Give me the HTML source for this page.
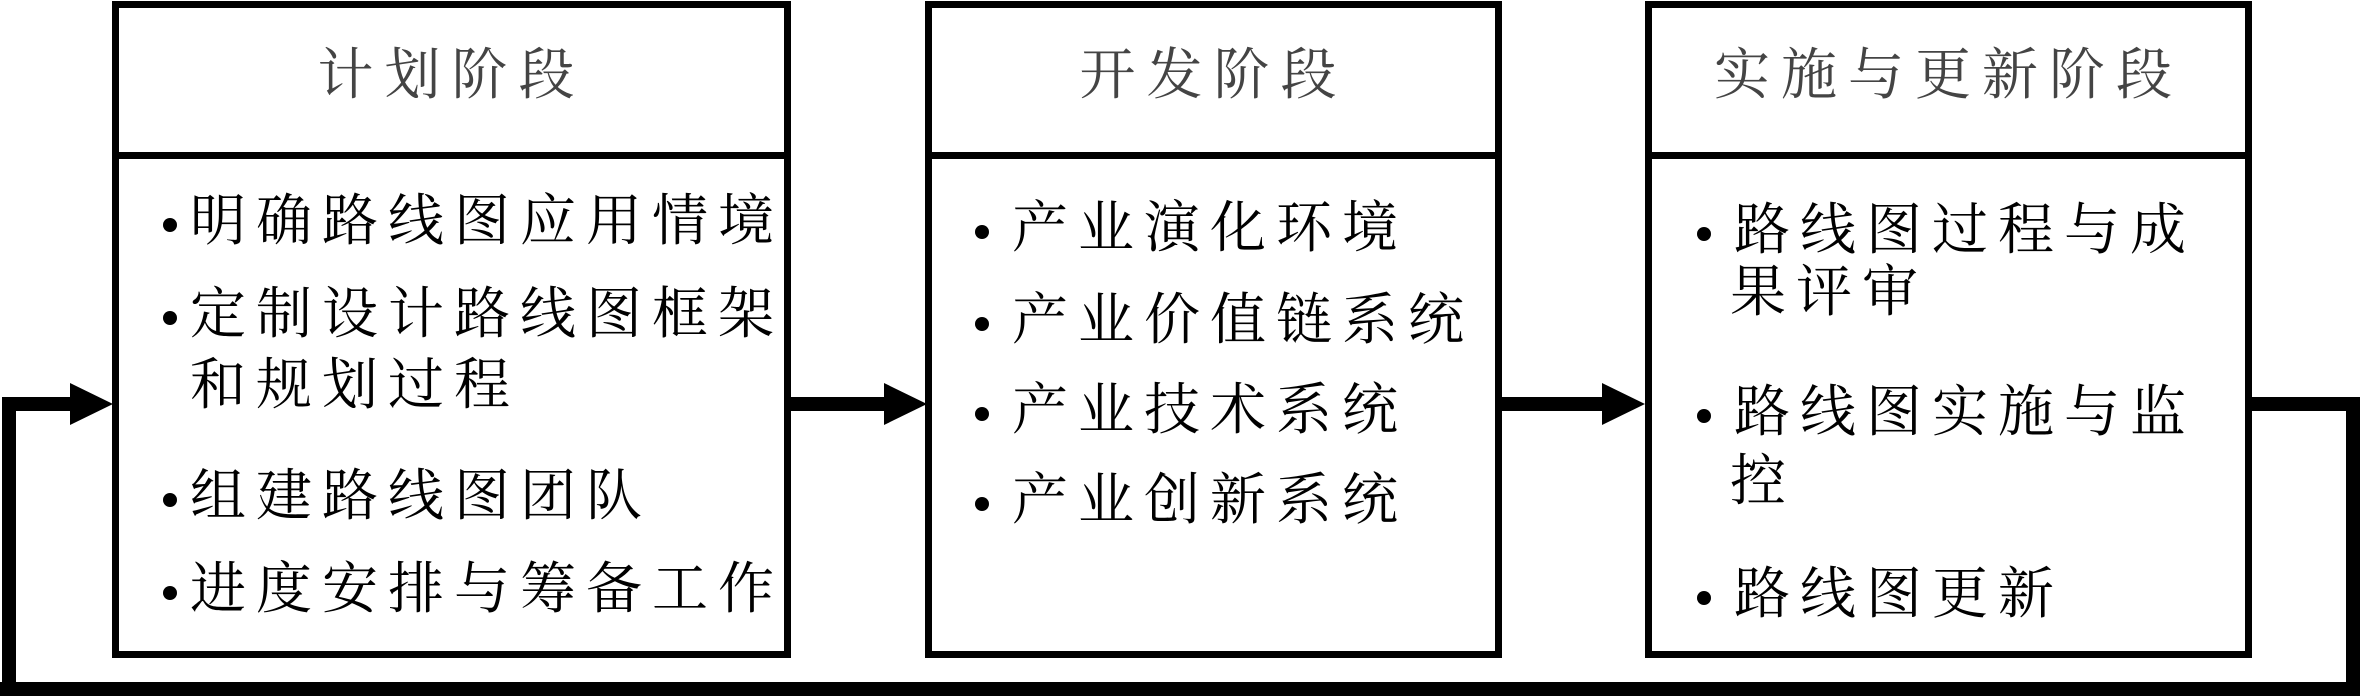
<!DOCTYPE html>
<html><head><meta charset="utf-8"><style>
body{margin:0;width:2362px;height:696px;background:#fff;position:relative;overflow:hidden;font-family:"Liberation Serif","Noto Serif CJK SC","Noto Serif CJK JP",serif;}
.b{position:absolute;background:#000}
.box{position:absolute;border:7px solid #000;box-sizing:border-box;background:#fff}
.t{position:absolute;font-size:56px;color:#444;white-space:nowrap;line-height:1;letter-spacing:11px}
.l{position:absolute;font-size:56px;color:#000;white-space:nowrap;line-height:1;letter-spacing:10px}
.d{position:absolute;width:14px;height:14px;border-radius:50%;background:#000}
.tri{position:absolute;width:0;height:0;border-top:21px solid transparent;border-bottom:21px solid transparent;border-left:43px solid #000}
</style></head><body>
<div class="box" style="left:112px;top:1px;width:679px;height:657px"></div>
<div class="b" style="left:112px;top:152px;width:679px;height:7px"></div>
<div class="box" style="left:925px;top:1px;width:577px;height:657px"></div>
<div class="b" style="left:925px;top:152px;width:577px;height:7px"></div>
<div class="box" style="left:1645px;top:1px;width:607px;height:657px"></div>
<div class="b" style="left:1645px;top:152px;width:607px;height:7px"></div>

<div class="t" style="left:112px;width:679px;text-align:center;top:48px">计划阶段</div>
<div class="t" style="left:925px;width:577px;text-align:center;top:48px">开发阶段</div>
<div class="t" style="left:1645px;width:607px;text-align:center;top:48px">实施与更新阶段</div>

<div class="d" style="left:163px;top:218px"></div><div class="l" style="left:190px;top:194px">明确路线图应用情境</div>
<div class="d" style="left:163px;top:311px"></div><div class="l" style="left:190px;top:287px">定制设计路线图框架</div>
<div class="l" style="left:190px;top:358px">和规划过程</div>
<div class="d" style="left:163px;top:493px"></div><div class="l" style="left:190px;top:469px">组建路线图团队</div>
<div class="d" style="left:163px;top:586px"></div><div class="l" style="left:190px;top:562px">进度安排与筹备工作</div>

<div class="d" style="left:975px;top:225px"></div><div class="l" style="left:1012px;top:201px">产业演化环境</div>
<div class="d" style="left:975px;top:317px"></div><div class="l" style="left:1012px;top:293px">产业价值链系统</div>
<div class="d" style="left:975px;top:407px"></div><div class="l" style="left:1012px;top:383px">产业技术系统</div>
<div class="d" style="left:975px;top:497px"></div><div class="l" style="left:1012px;top:473px">产业创新系统</div>

<div class="d" style="left:1697px;top:227px"></div><div class="l" style="left:1734px;top:203px">路线图过程与成</div>
<div class="l" style="left:1730px;top:265px">果评审</div>
<div class="d" style="left:1697px;top:409px"></div><div class="l" style="left:1734px;top:385px">路线图实施与监</div>
<div class="l" style="left:1730px;top:454px">控</div>
<div class="d" style="left:1697px;top:591px"></div><div class="l" style="left:1734px;top:567px">路线图更新</div>

<div class="b" style="left:791px;top:397px;width:95px;height:14px"></div>
<div class="tri" style="left:884px;top:383px"></div>
<div class="b" style="left:1502px;top:397px;width:102px;height:14px"></div>
<div class="tri" style="left:1602px;top:383px"></div>

<div class="b" style="left:2252px;top:397px;width:108px;height:14px"></div>
<div class="b" style="left:2346px;top:397px;width:14px;height:299px"></div>
<div class="b" style="left:0px;top:682px;width:2360px;height:14px"></div>
<div class="b" style="left:2px;top:397px;width:14px;height:299px"></div>
<div class="b" style="left:2px;top:397px;width:70px;height:14px"></div>
<div class="tri" style="left:70px;top:383px"></div>
</body></html>
